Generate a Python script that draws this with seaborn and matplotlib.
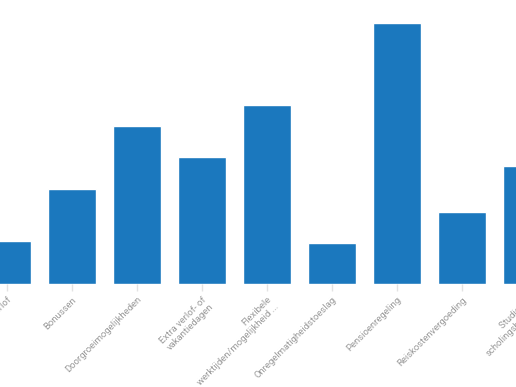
import matplotlib
matplotlib.use("Agg")
import matplotlib.pyplot as plt
import seaborn as sns
import pandas as pd

categories = [
    "Aanvullend verlof",
    "Bonussen",
    "Doorgroeimogelijkheden",
    "Extra verlof- of\nvakantiedagen",
    "Flexibele\nwerktijden/mogelijkheid ...",
    "Onregelmatigheidstoeslag",
    "Pensioenregeling",
    "Reiskostenvergoeding",
    "Studie- of\nscholingsbudget",
]
values = [43, 95, 158, 127, 179, 41, 261, 72, 118]

df = pd.DataFrame({"cat": categories, "val": values})

sns.set_theme(style="white")
plt.rcParams["font.family"] = ["Roboto", "DejaVu Sans"]

W, H = 516, 387
step = 65.0
x0, x1 = -7 / step, 8.6
fig = plt.figure(figsize=(W / 100, H / 100), dpi=100)
ax = fig.add_axes([0, 1 - 284 / H, (x1 - x0) * step / W, 284 / H])
sns.barplot(data=df, x="cat", y="val", color="#1b78be", saturation=1,
            width=0.74, ax=ax)
ax.set_xlim(x0, x1)
ax.set_ylim(0, 284)
for s in ax.spines.values():
    s.set_visible(False)
ax.set_yticks([])
ax.set_xlabel("")
ax.set_ylabel("")
ax.tick_params(axis="x", length=5, width=1, color="#e3e3e3", pad=3,
               labelsize=6.8, labelcolor="#999999", bottom=True)
for lbl in ax.get_xticklabels():
    lbl.set_rotation(45)
    lbl.set_ha("right")
    lbl.set_rotation_mode("anchor")
    lbl.set_multialignment("right")
    lbl.set_linespacing(1.15)
fig.savefig("out.png", dpi=100)
